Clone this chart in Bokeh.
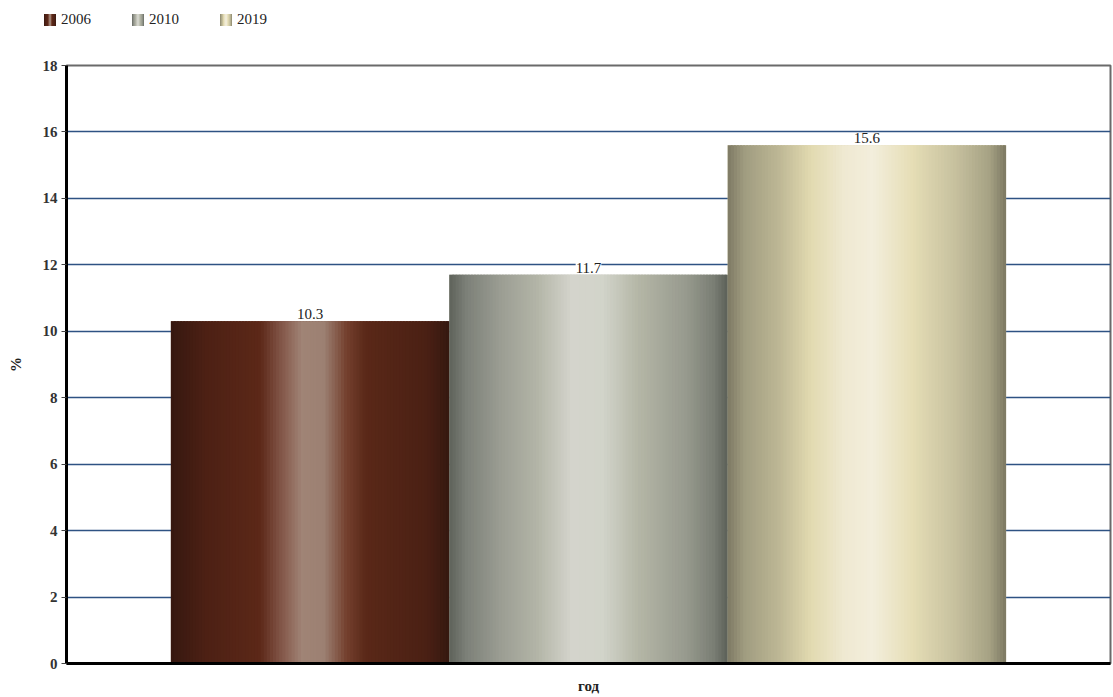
from bokeh.plotting import figure
from bokeh.layouts import column
from bokeh.models import ColumnDataSource, LabelSet, FixedTicker, Range1d, Div
from bokeh.embed import file_html
from bokeh.resources import INLINE

# Data
years = ["2006", "2010", "2019"]
shares = [10.3, 11.7, 15.6]
y_ticks = [0, 2, 4, 6, 8, 10, 12, 14, 16, 18]

# Horizontal shading stops (fraction across bar, colour) for each series
shading = {
    "2006": [(0.0, "#361810"), (0.12, "#4c2014"), (0.32, "#5c2818"),
             (0.40, "#84584a"), (0.47, "#a08476"), (0.55, "#9c8072"),
             (0.63, "#74402e"), (0.70, "#5a2818"), (0.92, "#4a2014"),
             (1.0, "#351810")],
    "2010": [(0.0, "#5e625a"), (0.06, "#7c8078"), (0.18, "#9a9c92"),
             (0.32, "#b4b6a8"), (0.44, "#d4d4cc"), (0.55, "#d2d4ca"),
             (0.68, "#b4b6a6"), (0.85, "#979a8e"), (0.95, "#7a7e74"),
             (1.0, "#5c6058")],
    "2019": [(0.0, "#7e7a64"), (0.06, "#a09c80"), (0.18, "#bcb694"),
             (0.30, "#e2dab0"), (0.42, "#efe9d2"), (0.52, "#f3eedc"),
             (0.66, "#e6deb6"), (0.82, "#c6c09e"), (0.94, "#a6a284"),
             (1.0, "#7c7862")],
}
base_colour = {"2006": "#5a2818", "2010": "#a4a698", "2019": "#d8d0a8"}


def hex_to_rgb(h):
    return tuple(int(h[i:i + 2], 16) for i in (1, 3, 5))


def colour_at(stops, t):
    for (t0, c0), (t1, c1) in zip(stops[:-1], stops[1:]):
        if t0 <= t <= t1:
            f = 0 if t1 == t0 else (t - t0) / (t1 - t0)
            a, b = hex_to_rgb(c0), hex_to_rgb(c1)
            return "#%02x%02x%02x" % tuple(round(a[k] + (b[k] - a[k]) * f) for k in range(3))
    return stops[-1][1]


FONT = "Liberation Serif"
TOP_H = 57

# ---- legend strip above the chart (shaded swatches + year labels) ----
parts = []
for j, yr in enumerate(years):
    grad = ", ".join(f"{c} {round(t * 100)}%" for t, c in shading[yr])
    left = 44 + j * 88
    parts.append(
        f'<span style="position:absolute;left:{left}px;top:14px;width:12px;height:12px;'
        f'background:linear-gradient(to right, {grad});"></span>'
        f'<span style="position:absolute;left:{left + 17}px;top:11px;line-height:17px;">{yr}</span>'
    )
legend_div = Div(
    text=(f'<div style="position:relative;width:1113px;height:{TOP_H}px;'
          f'font-family:\'{FONT}\';font-size:15px;color:#222222;">' + "".join(parts) + "</div>"),
    width=1113, height=TOP_H, margin=(0, 0, 0, 0))

# ---- main chart ----
p = figure(width=1113, height=697 - TOP_H, output_backend="svg", toolbar_location=None,
           x_range=Range1d(-0.875, 2.875), y_range=Range1d(0, 18),
           min_border_left=66, min_border_right=3, min_border_bottom=34,
           min_border_top=65 - TOP_H)
p.background_fill_color = "white"
p.border_fill_color = "white"
p.outline_line_color = "#6a6a6a"
p.outline_line_width = 2

bar_width = 1.0
for i, (yr, v) in enumerate(zip(years, shares)):
    src = ColumnDataSource(dict(x=[i], top=[v]))
    p.vbar(x="x", top="top", width=bar_width, source=src,
           fill_color=base_colour[yr], line_color=None)

# Shaded stripes on every bar
N = 90
step = bar_width / N
for i, (yr, v) in enumerate(zip(years, shares)):
    lefts, rights, tops, cols = [], [], [], []
    for k in range(N):
        t = (k + 0.5) / N
        lefts.append(i - bar_width / 2 + k * step)
        rights.append(min(i - bar_width / 2 + (k + 1.6) * step, i + bar_width / 2))
        tops.append(v)
        cols.append(colour_at(shading[yr], t))
    p.quad(left=lefts, right=rights, bottom=[0] * N, top=tops,
           fill_color=cols, line_color=None)

# Value labels
lab_src = ColumnDataSource(dict(x=list(range(len(years))), y=shares,
                                txt=[f"{v:.1f}" for v in shares]))
p.add_layout(LabelSet(x="x", y="y", text="txt", source=lab_src,
                      text_align="center", text_baseline="bottom", y_offset=2,
                      text_font=FONT, text_font_size="15px", text_color="#222222",
                      background_fill_color="white",
                      border_line_color=None))

# Grid
p.xgrid.visible = False
p.ygrid.ticker = FixedTicker(ticks=y_ticks)
p.ygrid.grid_line_color = "#2e5283"
p.ygrid.grid_line_width = 1.6
p.ygrid.level = "underlay"

# Axes
p.yaxis.ticker = FixedTicker(ticks=y_ticks)
p.yaxis.axis_line_color = "black"
p.yaxis.axis_line_width = 3
p.yaxis.major_tick_line_color = "#444444"
p.yaxis.major_tick_out = 5
p.yaxis.major_tick_in = 0
p.yaxis.minor_tick_line_color = None
p.yaxis.major_label_text_font = FONT
p.yaxis.major_label_text_font_size = "15px"
p.yaxis.major_label_text_font_style = "bold"
p.yaxis.major_label_text_color = "#333333"
p.yaxis.major_label_standoff = 4
p.yaxis.axis_label = "%"
p.yaxis.axis_label_text_font = FONT
p.yaxis.axis_label_text_font_size = "15px"
p.yaxis.axis_label_text_font_style = "bold"
p.yaxis.axis_label_text_color = "#222222"
p.yaxis.axis_label_standoff = 16

p.xaxis.ticker = FixedTicker(ticks=[])
p.xaxis.axis_line_color = "black"
p.xaxis.axis_line_width = 3
p.xaxis.major_tick_line_color = None
p.xaxis.minor_tick_line_color = None
p.xaxis.major_label_text_font_size = "0px"
p.xaxis.axis_label = "год"
p.xaxis.axis_label_text_font = FONT
p.xaxis.axis_label_text_font_size = "15px"
p.xaxis.axis_label_text_font_style = "bold"
p.xaxis.axis_label_text_color = "#222222"
p.xaxis.axis_label_standoff = 14

layout = column(legend_div, p, spacing=0)
open("out.html", "w").write(file_html(layout, INLINE))
